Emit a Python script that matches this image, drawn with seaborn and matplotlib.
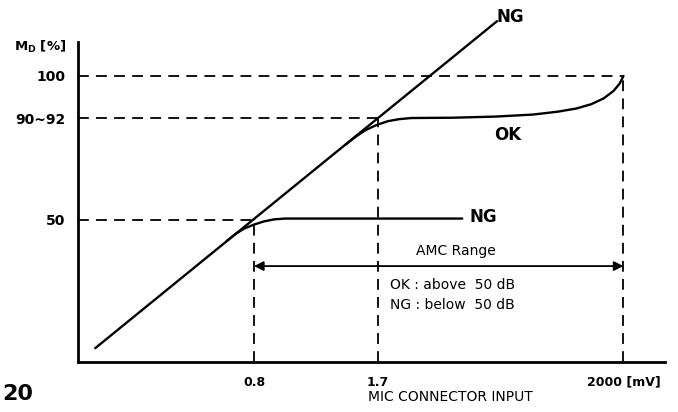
import matplotlib
matplotlib.use("Agg")
import matplotlib.pyplot as plt
import seaborn as sns
import pandas as pd

# ---- data (schematic positions) ----
x_tick_pos = [1.0, 2.0, 3.98]
x_tick_labels = ["0.8", "1.7", "2000 [mV]"]
y_tick_pos = [50.0, 85.3, 100.0]
y_tick_labels = ["50", "90~92", "100"]

diag_x = [-0.28, 2.96]
diag_y = [5.5, 119.0]

ng_x = [0.78, 0.85, 0.92, 1.00, 1.08, 1.16, 1.25, 2.68]
ng_y = [42.7, 45.1, 47.0, 48.4, 49.5, 50.2, 50.5, 50.5]

ok_x = [1.74, 1.82, 1.90, 1.99, 2.08, 2.17, 2.27, 2.60, 2.95, 3.25, 3.45, 3.60,
        3.72, 3.82, 3.90, 3.95, 3.98]
ok_y = [76.2, 78.9, 81.2, 83.0, 84.3, 85.0, 85.4, 85.5, 85.9, 86.6, 87.6, 88.7,
        90.2, 92.2, 94.8, 97.4, 100.0]

amc_range = [1.0, 3.98]
amc_y = 34.0

sns.set_theme(style="white")
plt.rcParams["font.family"] = ["DejaVu Sans"]
plt.rcParams["text.color"] = "black"

fig = plt.figure(figsize=(6.78, 4.12), dpi=100)
ax = fig.add_axes([78 / 678, 1 - 362 / 412, 587 / 678, 352 / 412])
ax.set_xlim(-0.419, 4.315)
ax.set_ylim(0.7, 122.9)

lw = 1.7
df_diag = pd.DataFrame({"x": diag_x, "y": diag_y})
df_ng = pd.DataFrame({"x": ng_x, "y": ng_y})
df_ok = pd.DataFrame({"x": ok_x, "y": ok_y})
for d in (df_diag, df_ng, df_ok):
    sns.lineplot(data=d, x="x", y="y", ax=ax, color="black", lw=lw,
                 sort=False, estimator=None)

# dashed guide lines
dash = dict(color="black", lw=1.3, ls=(0, (6, 4)))
ax.plot([-0.419, x_tick_pos[2]], [y_tick_pos[2]] * 2, **dash)
ax.plot([x_tick_pos[2]] * 2, [0.7, y_tick_pos[2]], **dash)
ax.plot([-0.419, x_tick_pos[1]], [y_tick_pos[1]] * 2, **dash)
ax.plot([x_tick_pos[1]] * 2, [0.7, y_tick_pos[1]], **dash)
ax.plot([-0.419, x_tick_pos[0]], [y_tick_pos[0]] * 2, **dash)
ax.plot([x_tick_pos[0]] * 2, [0.7, y_tick_pos[0]], **dash)

# AMC range arrow
ax.annotate("", xy=(amc_range[1], amc_y), xytext=(amc_range[0], amc_y),
            arrowprops=dict(arrowstyle="<|-|>", color="black", lw=1.3,
                            mutation_scale=14, shrinkA=0, shrinkB=0))
ax.text(2.63, 39.2, "AMC Range", ha="center", va="center", fontsize=10,
        color="black")
ax.text(2.10, 27.4, "OK : above  50 dB", ha="left", va="center", fontsize=10,
        color="black")
ax.text(2.10, 20.5, "NG : below  50 dB", ha="left", va="center", fontsize=10,
        color="black")

# curve labels
ax.text(3.07, 120.5, "NG", ha="center", va="center", fontsize=12,
        fontweight="bold", color="black")
ax.text(3.05, 79.5, "OK", ha="center", va="center", fontsize=12,
        fontweight="bold", color="black")
ax.text(2.74, 51.0, "NG", ha="left", va="center", fontsize=12,
        fontweight="bold", color="black")

# axes styling
for s in ("top", "right"):
    ax.spines[s].set_visible(False)
for s in ("left", "bottom"):
    ax.spines[s].set_color("black")
    ax.spines[s].set_linewidth(2)
ax.spines["left"].set_bounds(0.7, 111.8)

ax.set_xticks(x_tick_pos)
ax.set_xticklabels(x_tick_labels, fontsize=9, fontweight="bold")
ax.set_yticks(y_tick_pos)
ax.set_yticklabels(y_tick_labels, fontsize=10, fontweight="bold")
ax.tick_params(axis="both", direction="out", length=3, width=1.5, color="black",
               pad=7, labelcolor="black")
ax.tick_params(axis="y", pad=6)
ax.set_xlabel("")
ax.set_ylabel("")

fig.text(40 / 678, 1 - 47 / 412, r"M$_{\mathbf{D}}$ [%]", ha="center", va="center",
         fontsize=9.5, fontweight="bold", color="black")
fig.text(450 / 678, 1 - 397 / 412, "MIC CONNECTOR INPUT", ha="center", va="center",
         fontsize=10, color="black")
fig.text(2 / 678, 1 - 394 / 412, "20", ha="left", va="center",
         fontsize=16, fontweight="bold", color="black")

fig.savefig("out.png", dpi=100, facecolor="white")
